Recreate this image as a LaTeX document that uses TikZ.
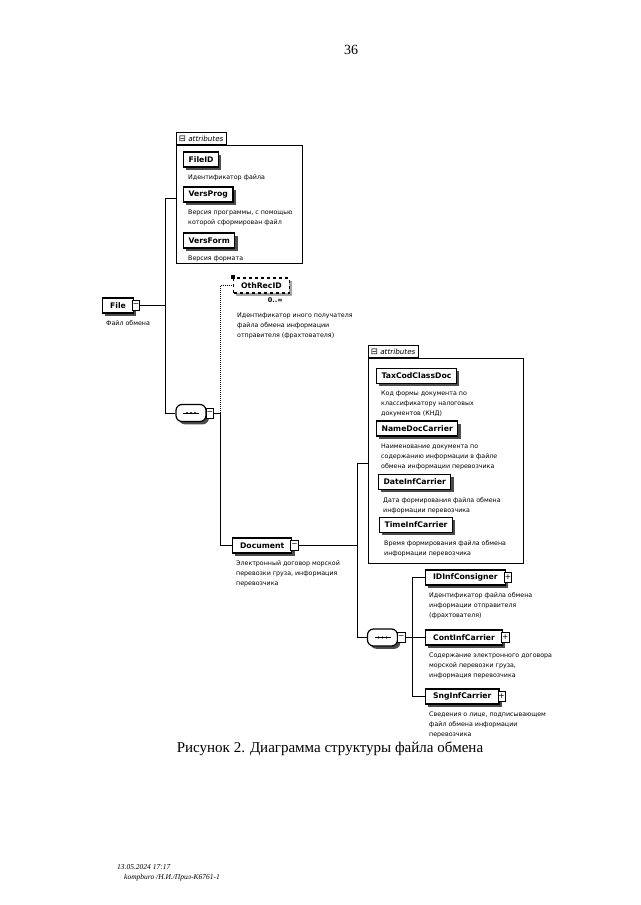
\documentclass[tikz,border=0pt]{standalone}
\usepackage{fontspec}
\setmainfont{Liberation Serif}
\newfontfamily\dia{DejaVu Sans}
\usetikzlibrary{shadows}
\begin{document}
\begin{tikzpicture}[x=1pt,y=-1pt]
\useasboundingbox[fill=white] (0,0) rectangle (640,905);
\tikzstyle{every node} = [inner sep=0];
\tikzstyle{box} = [draw,line width=1.2,fill=white,minimum height=15,inner xsep=7.5,font=\dia\fontsize{7.7}{9}\selectfont\bfseries];
\tikzstyle{elem} = [box,anchor=west,drop shadow={shadow xshift=2.8pt,shadow yshift=-2.8pt,fill=black!70,opacity=1}];
\tikzstyle{attr} = [elem,inner xsep=5];
\tikzstyle{optelem} = [box,anchor=west,dashed,drop shadow={shadow xshift=2.8pt,shadow yshift=-2.8pt,fill=black!35,opacity=1}];
\tikzstyle{btn} = [draw,fill=white,line width=0.7,minimum width=7.5,minimum height=10,anchor=west,font=\dia\fontsize{7.5}{7.5}\selectfont];
\tikzstyle{descr} = [anchor=north west,align=left,font=\dia\fontsize{6.3}{10}\selectfont];
\tikzstyle{group} = [draw,line width=0.8,fill=white,anchor=north west];
\tikzstyle{grouptab} = [draw,line width=0.8,fill=white,anchor=south west,minimum height=12.5,inner xsep=2.5,font=\dia\fontsize{7.2}{8}\selectfont];
\tikzstyle{seq} = [draw,line width=1.2,fill=white,rounded corners=6pt,minimum width=30,minimum height=17,drop shadow={shadow xshift=2.8pt,shadow yshift=-2.8pt,fill=black!70,opacity=1}];
\tikzstyle{conn} = [line width=1];

\node[font=\fontsize{14}{16}\selectfont] (pnum) at (351,50) {36};

% attribute groups
\node[group,minimum width=126,minimum height=118] (attrs1) at (176,145) {};
\node[grouptab] (tab1) at (attrs1.north west) {{\fontsize{8.5}{8}\selectfont ⊟} \textit{attributes}};
\node[group,minimum width=155,minimum height=205] (attrs2) at (368,358) {};
\node[grouptab] (tab2) at (attrs2.north west) {{\fontsize{8.5}{8}\selectfont ⊟} \textit{attributes}};

\foreach \n/\t/\x/\y/\d in {fileid/FileID/183/159.5/{Идентификатор файла},
  versprog/VersProg/183/194.5/{Версия программы, с помощью\\которой сформирован файл},
  versform/VersForm/183/240.5/{Версия формата},
  taxcod/TaxCodClassDoc/376/376/{Код формы документа по\\классификатору налоговых\\документов (КНД)},
  namedoc/NameDocCarrier/376/428.5/{Наименование документа по\\содержанию информации в файле\\обмена информации перевозчика},
  dateinf/DateInfCarrier/378/482/{Дата формирования файла обмена\\информации перевозчика},
  timeinf/TimeInfCarrier/379/525/{Время формирования файла обмена\\информации перевозчика}}{
  \node[attr] (\n) at (\x,\y) {\t};
  \node[descr] (\n_d) at ([shift={(5,7)}]\n.south west) {\d};
}

% elements
\foreach \n/\t/\x/\y/\s/\d in {file/File/102/305.5/−/{Файл обмена},
  document/Document/232/545.5/−/{Электронный договор морской\\перевозки груза, информация\\перевозчика},
  idinf/IDInfConsigner/425/577.5/+/{Идентификатор файла обмена\\информации отправителя\\(фрахтователя)},
  continf/ContInfCarrier/425/637.5/+/{Содержание электронного договора\\морской перевозки груза,\\информация перевозчика},
  snginf/SngInfCarrier/425/696.5/+/{Сведения о лице, подписывающем\\файл обмена информации\\перевозчика}}{
  \node[elem] (\n) at (\x,\y) {\t};
  \node[btn] (\n_b) at ([xshift=-2]\n.east) {\s};
  \node[descr] (\n_d) at ([shift={(4,7)}]\n.south west) {\d};
}

\node[optelem] (othrec) at (233,285.5) {OthRecID};
\fill (othrec.north west) +(-2,-2) rectangle +(2,2);
\node[anchor=north east,font=\dia\fontsize{6.5}{7}\selectfont\bfseries] (othrec_m) at ([shift={(-7,3.5)}]othrec.south east) {0..∞};
\node[descr] (othrec_d) at ([shift={(4,19)}]othrec.south west) {Идентификатор иного получателя\\файла обмена информации\\отправителя (фрахтователя)};

% sequences
\node[seq] (seq1) at (191,413) {};
\node[btn] (seq1_b) at ([xshift=-1]seq1.east) {−};
\node[seq] (seq2) at (382.5,637.5) {};
\node[btn] (seq2_b) at ([xshift=-1]seq2.east) {−};
\foreach \s in {seq1,seq2}{
  \draw[line width=0.9] ([xshift=-8]\s.center) -- ([xshift=8]\s.center);
  \foreach \k in {-4,0,4} \fill ([xshift=\k]\s.center) circle (1.2pt);
}

% connectors
\coordinate (j1) at (165,198);
\coordinate (j2) at (220,413);
\coordinate (j3) at (357,463);
\coordinate (j4) at (412,577.5);
\draw[conn] (file_b.east) -- (file_b.east -| j1);
\draw[conn] (attrs1.west |- j1) -- (j1) |- (seq1.west);
\draw[conn] (seq1_b.east) -- (j2) |- (document.west);
\draw[conn,densely dotted] (j2) |- (othrec.west);
\draw[conn] (document_b.east) -- (document_b.east -| j3);
\draw[conn] (attrs2.west |- j3) -- (j3) |- (seq2.west);
\draw[conn] (seq2_b.east) -- (continf.west);
\draw[conn] (idinf.west) -| (j4 |- snginf.west) -- (snginf.west);

\node[font=\fontsize{15}{17}\selectfont] (caption) at (330,749) {Рисунок 2. Диаграмма структуры файла обмена};
\node[anchor=west,font=\fontsize{7.5}{9}\selectfont\itshape] (stamp1) at (117,867) {13.05.2024 17:17};
\node[anchor=west,font=\fontsize{7.5}{9}\selectfont\itshape] (stamp2) at (124,878) {kompburo /Н.И./Прил-К6761-1};
\end{tikzpicture}
\end{document}
